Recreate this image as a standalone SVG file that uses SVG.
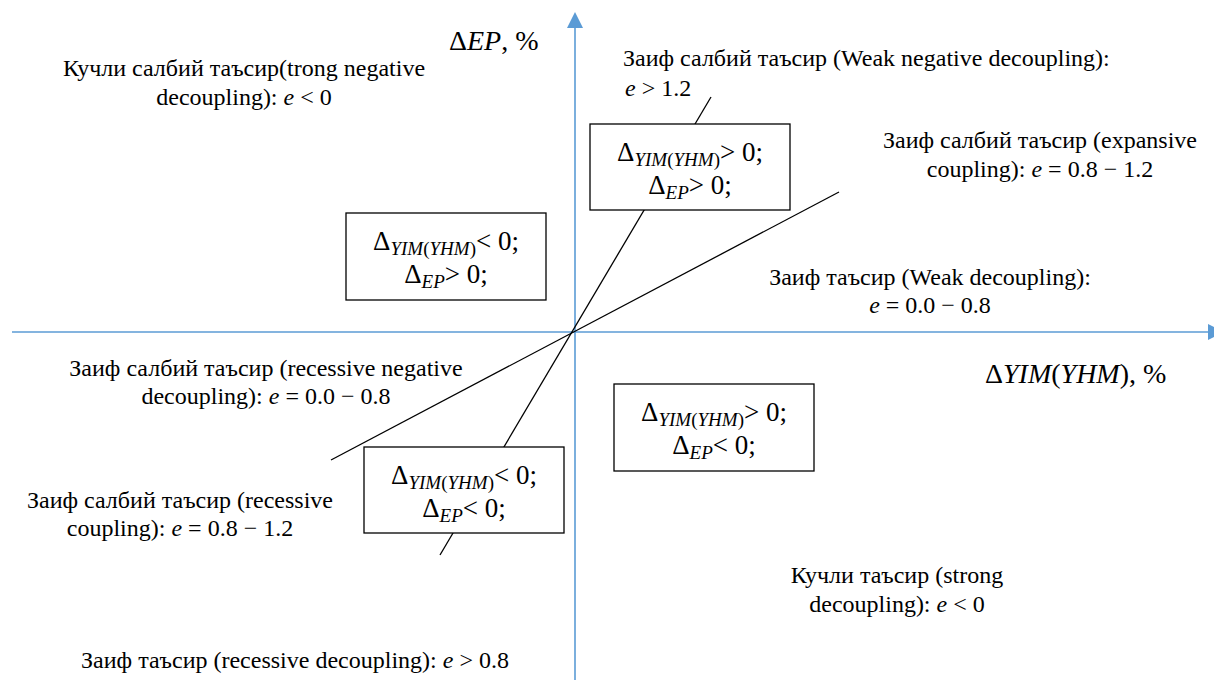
<svg xmlns="http://www.w3.org/2000/svg" width="1214" height="680" viewBox="0 0 1214 680" font-family="'Liberation Serif', 'DejaVu Serif', serif">
<style>
text{font-family:'Liberation Serif','DejaVu Serif',serif}
.lbl{font-size:24px;fill:#000}
.m{font-style:italic}
.ax{stroke:#5b9bd5;stroke-width:1.6;fill:none}
.ln{stroke:#000;stroke-width:1.3;fill:none}
.box{fill:#fff;stroke:#000;stroke-width:1.3}
.bt{font-size:27px;fill:#000;text-anchor:middle}
.sub{font-size:19px}
.axl{font-size:28px;fill:#000}
</style>
<rect width="1214" height="680" fill="#fff"/>
<g id="connectors">
  <line class="ax" x1="575" y1="680" x2="575" y2="26"/>
  <polygon points="575,12 567,28 583,28" fill="#5b9bd5"/>
  <line class="ax" x1="12" y1="332" x2="1210" y2="332"/>
  <polygon points="1224,332 1208,324 1208,340" fill="#5b9bd5"/>
  <line class="ln" x1="711" y1="97" x2="440" y2="555"/>
  <line class="ln" x1="331" y1="460" x2="839" y2="192"/>
</g>
<g id="box-q1">
  <rect class="box" x="590" y="124" width="200" height="86"/>
  <text class="bt" x="690" y="161">Δ<tspan class="sub" dy="5"><tspan class="m">YIM</tspan>(<tspan class="m">YHM</tspan>)</tspan><tspan dy="-5">&gt; 0;</tspan></text>
  <text class="bt" x="690" y="194">Δ<tspan class="sub m" dy="5">EP</tspan><tspan dy="-5">&gt; 0;</tspan></text>
</g>
<g id="box-q2">
  <rect class="box" x="346" y="213" width="200" height="87"/>
  <text class="bt" x="446" y="250">Δ<tspan class="sub" dy="5"><tspan class="m">YIM</tspan>(<tspan class="m">YHM</tspan>)</tspan><tspan dy="-5">&lt; 0;</tspan></text>
  <text class="bt" x="446" y="283">Δ<tspan class="sub m" dy="5">EP</tspan><tspan dy="-5">&gt; 0;</tspan></text>
</g>
<g id="box-q4">
  <rect class="box" x="614" y="384" width="200" height="87"/>
  <text class="bt" x="714" y="421">Δ<tspan class="sub" dy="5"><tspan class="m">YIM</tspan>(<tspan class="m">YHM</tspan>)</tspan><tspan dy="-5">&gt; 0;</tspan></text>
  <text class="bt" x="714" y="454">Δ<tspan class="sub m" dy="5">EP</tspan><tspan dy="-5">&lt; 0;</tspan></text>
</g>
<g id="box-q3">
  <rect class="box" x="364" y="447" width="200" height="86"/>
  <text class="bt" x="464" y="484">Δ<tspan class="sub" dy="5"><tspan class="m">YIM</tspan>(<tspan class="m">YHM</tspan>)</tspan><tspan dy="-5">&lt; 0;</tspan></text>
  <text class="bt" x="464" y="517">Δ<tspan class="sub m" dy="5">EP</tspan><tspan dy="-5">&lt; 0;</tspan></text>
</g>
<g id="axis-labels">
  <text class="axl" x="449" y="50">Δ<tspan class="m">EP</tspan>, %</text>
  <text class="axl" x="985" y="383">Δ<tspan class="m">YIM</tspan>(<tspan class="m">YHM</tspan>), %</text>
</g>
<g id="label-strong-negative" class="lbl" text-anchor="middle">
  <text x="244" y="76">Кучли салбий таъсир(trong negative</text>
  <text x="244" y="105">decoupling): <tspan class="m">e</tspan> &lt; 0</text>
</g>
<g id="label-weak-negative" class="lbl">
  <text x="623" y="66">Заиф салбий таъсир (Weak negative decoupling):</text>
  <text x="625" y="96"><tspan class="m">e</tspan> &gt; 1.2</text>
</g>
<g id="label-expansive" class="lbl" text-anchor="middle">
  <text x="1040" y="148">Заиф салбий таъсир (expansive</text>
  <text x="1040" y="177">coupling): <tspan class="m">e</tspan> = 0.8 − 1.2</text>
</g>
<g id="label-weak" class="lbl" text-anchor="middle">
  <text x="930" y="285">Заиф таъсир (Weak decoupling):</text>
  <text x="930" y="313"><tspan class="m">e</tspan> = 0.0 − 0.8</text>
</g>
<g id="label-recessive-negative" class="lbl" text-anchor="middle">
  <text x="266" y="376">Заиф салбий таъсир (recessive negative</text>
  <text x="266" y="404">decoupling): <tspan class="m">e</tspan> = 0.0 − 0.8</text>
</g>
<g id="label-recessive-coupling" class="lbl" text-anchor="middle">
  <text x="180" y="508">Заиф салбий таъсир (recessive</text>
  <text x="180" y="536">coupling): <tspan class="m">e</tspan> = 0.8 − 1.2</text>
</g>
<g id="label-strong" class="lbl" text-anchor="middle">
  <text x="897" y="583">Кучли таъсир (strong</text>
  <text x="897" y="612">decoupling): <tspan class="m">e</tspan> &lt; 0</text>
</g>
<g id="label-recessive-decoupling" class="lbl" text-anchor="middle">
  <text x="295" y="668">Заиф таъсир (recessive decoupling): <tspan class="m">e</tspan> &gt; 0.8</text>
</g>
</svg>
